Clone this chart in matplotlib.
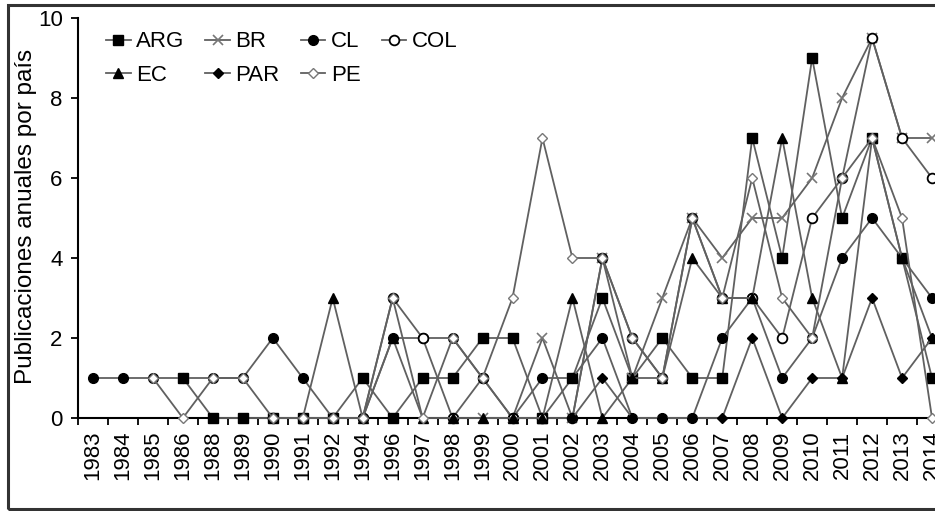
import matplotlib
matplotlib.use("Agg")
import matplotlib.pyplot as plt
from matplotlib.patches import Rectangle
import numpy as np

plt.rcParams['font.family'] = ['Liberation Sans', 'DejaVu Sans']

years = ['1983', '1984', '1985', '1986', '1988', '1989', '1990', '1991', '1992',
         '1994', '1996', '1997', '1998', '1999', '2000', '2001', '2002', '2003',
         '2004', '2005', '2006', '2007', '2008', '2009', '2010', '2011', '2012',
         '2013', '2014']
N = None
ARG = [N, N, N, 1, 0, 0, 0, 0, 0, 1, 0, 1, 1, 2, 2, 0, 1, 3, 1, 2, 1, 1, 7, 4, 9, 5, 7, 4, 1]
BR = [N, N, N, N, N, N, N, N, N, N, N, N, N, 0, 0, 2, 0, 4, 1, 3, 5, 4, 5, 5, 6, 8, 9.5, 7, 7]
CL = [1, 1, 1, 1, 1, 1, 2, 1, 0, 0, 2, 2, 2, 1, 0, 1, 1, 2, 0, 0, 0, 2, 3, 1, 2, 4, 5, 4, 3]
COL = [N, N, N, N, N, N, 0, 0, 0, 0, 3, 2, 0, 1, 0, 0, 0, 4, 2, 1, 5, 3, 3, 2, 5, 6, 9.5, 7, 6]
EC = [N, N, N, N, N, N, N, 0, 3, 0, 2, 0, 0, 0, 0, 0, 3, 0, 1, 1, 4, 3, 3, 7, 3, 1, 7, 4, 2]
PAR = [N, N, N, N, N, N, N, N, N, N, N, N, N, N, N, N, 0, 1, 0, 0, 0, 0, 2, 0, 1, 1, 3, 1, 2]
PE = [N, N, 1, 0, 1, 1, 0, 0, 0, 0, 3, 0, 2, 1, 3, 7, 4, 4, 2, 1, 5, 3, 6, 3, 2, 6, 7, 5, 0]

series = [
    ('ARG', ARG, dict(marker='s', ms=6.5, mfc='black', mec='black')),
    ('BR', BR, dict(marker='x', ms=7, mfc='#777777', mec='#777777', mew=1.2)),
    ('CL', CL, dict(marker='o', ms=7, mfc='black', mec='black')),
    ('COL', COL, dict(marker='o', ms=7, mfc='white', mec='black', mew=1.3)),
    ('EC', EC, dict(marker='^', ms=7.5, mfc='black', mec='black')),
    ('PAR', PAR, dict(marker='D', ms=5, mfc='black', mec='black')),
    ('PE', PE, dict(marker='D', ms=5, mfc='white', mec='#777777', mew=1.0)),
]

fig = plt.figure(figsize=(9.35, 5.11), dpi=100)
fig.patches.append(Rectangle((7.5 / 935, 2.5 / 511), 1.2, 1 - 7.5 / 511,
                             transform=fig.transFigure, fill=False,
                             edgecolor='#333333', linewidth=2.2, zorder=10))

ax = fig.add_axes([78 / 935, 1 - 418 / 511, 869 / 935, 400 / 511])
x = np.arange(len(years))
handles = {}
for name, vals, st in series:
    y = np.array([np.nan if v is None else v for v in vals], dtype=float)
    h, = ax.plot(x, y, color='#606060', lw=1.3, clip_on=False, zorder=3,
                 label=name, **st)
    handles[name] = h

ax.set_xlim(-0.5, len(years) - 0.5)
ax.set_ylim(0, 10)
ax.set_yticks([0, 2, 4, 6, 8, 10])
ax.set_xticks(x)
ax.set_xticklabels(years, rotation=90, fontsize=16)
ax.set_xticks(np.arange(-0.5, len(years), 1.0), minor=True)
ax.tick_params(axis='x', which='major', length=0, pad=9)
ax.tick_params(axis='x', which='minor', length=5, width=1.3, direction='out')
ax.tick_params(axis='y', length=5, width=1.3, labelsize=16, pad=6)
for s in ['top', 'right']:
    ax.spines[s].set_visible(False)
for s in ['left', 'bottom']:
    ax.spines[s].set_linewidth(1.5)
ax.set_ylabel('Publicaciones anuales por país', fontsize=17.5)
ax.yaxis.set_label_coords(-0.0475, 0.505)

order = ['ARG', 'EC', 'BR', 'PAR', 'CL', 'PE', 'COL']
ax.legend([handles[k] for k in order], order, ncol=4, loc='upper left',
          bbox_to_anchor=(0.017, 1.0), frameon=False, fontsize=16,
          handlelength=1.1, handletextpad=0.25, columnspacing=0.95,
          labelspacing=0.55, borderaxespad=0.2)

fig.savefig('out.png', dpi=100)
